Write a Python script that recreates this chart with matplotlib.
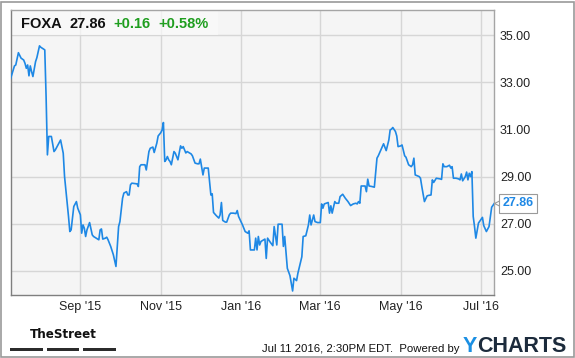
import matplotlib
matplotlib.use("Agg")
import matplotlib.pyplot as plt
import matplotlib.dates as mdates
import matplotlib.transforms as mtransforms
from matplotlib.patches import Rectangle
import numpy as np
import pandas as pd

plt.rcParams['font.family'] = ['Liberation Sans', 'DejaVu Sans']

ticker = "FOXA"
last_price = 27.86
change = "+0.16"
change_pct = "+0.58%"
stamp = "Jul 11 2016, 2:30PM EDT.  Powered by"

# FOXA closing prices (Jul 2015 - Jul 2016)
dates = [
    "2015-07-10", "2015-07-13", "2015-07-14", "2015-07-16", "2015-07-18", "2015-07-20",
    "2015-07-21", "2015-07-22", "2015-07-23", "2015-07-24", "2015-07-25", "2015-07-26",
    "2015-07-27", "2015-07-29", "2015-07-30", "2015-08-01", "2015-08-02", "2015-08-05",
    "2015-08-06", "2015-08-07", "2015-08-08", "2015-08-10", "2015-08-12", "2015-08-13",
    "2015-08-15", "2015-08-17", "2015-08-19", "2015-08-20", "2015-08-22", "2015-08-23",
    "2015-08-24", "2015-08-25", "2015-08-27", "2015-08-29", "2015-08-30", "2015-09-01",
    "2015-09-02", "2015-09-03", "2015-09-04", "2015-09-05", "2015-09-06", "2015-09-08",
    "2015-09-10", "2015-09-11", "2015-09-13", "2015-09-15", "2015-09-16", "2015-09-17",
    "2015-09-18", "2015-09-20", "2015-09-21", "2015-09-22", "2015-09-24", "2015-09-26",
    "2015-09-28", "2015-09-30", "2015-10-01", "2015-10-03", "2015-10-04", "2015-10-06",
    "2015-10-07", "2015-10-08", "2015-10-09", "2015-10-10", "2015-10-14", "2015-10-15",
    "2015-10-16", "2015-10-17", "2015-10-20", "2015-10-21", "2015-10-23", "2015-10-24",
    "2015-10-26", "2015-10-27", "2015-10-29", "2015-10-30", "2015-11-01", "2015-11-02",
    "2015-11-03", "2015-11-04", "2015-11-05", "2015-11-06", "2015-11-07", "2015-11-08",
    "2015-11-09", "2015-11-11", "2015-11-12", "2015-11-14", "2015-11-16", "2015-11-17",
    "2015-11-18", "2015-11-20", "2015-11-21", "2015-11-24", "2015-11-25", "2015-11-27",
    "2015-11-29", "2015-11-30", "2015-12-01", "2015-12-03", "2015-12-04", "2015-12-07",
    "2015-12-09", "2015-12-10", "2015-12-11", "2015-12-13", "2015-12-15", "2015-12-16",
    "2015-12-17", "2015-12-18", "2015-12-20", "2015-12-21", "2015-12-23", "2015-12-24",
    "2015-12-26", "2015-12-28", "2015-12-29", "2015-12-30", "2016-01-02", "2016-01-04",
    "2016-01-06", "2016-01-07", "2016-01-08", "2016-01-09", "2016-01-11", "2016-01-12",
    "2016-01-13", "2016-01-14", "2016-01-15", "2016-01-16", "2016-01-19", "2016-01-20",
    "2016-01-21", "2016-01-23", "2016-01-25", "2016-01-26", "2016-01-28", "2016-01-29",
    "2016-02-01", "2016-02-02", "2016-02-03", "2016-02-05", "2016-02-07", "2016-02-09",
    "2016-02-10", "2016-02-12", "2016-02-13", "2016-02-16", "2016-02-17", "2016-02-19",
    "2016-02-21", "2016-02-22", "2016-02-23", "2016-02-25", "2016-02-26", "2016-02-28",
    "2016-03-01", "2016-03-02", "2016-03-03", "2016-03-04", "2016-03-07", "2016-03-08",
    "2016-03-09", "2016-03-10", "2016-03-12", "2016-03-13", "2016-03-15", "2016-03-16",
    "2016-03-18", "2016-03-20", "2016-03-22", "2016-03-24", "2016-03-26", "2016-03-28",
    "2016-03-29", "2016-03-30", "2016-03-31", "2016-04-01", "2016-04-04", "2016-04-05",
    "2016-04-06", "2016-04-07", "2016-04-09", "2016-04-11", "2016-04-13", "2016-04-14",
    "2016-04-16", "2016-04-18", "2016-04-20", "2016-04-22", "2016-04-23", "2016-04-24",
    "2016-04-25", "2016-04-27", "2016-04-28", "2016-04-29", "2016-05-01", "2016-05-02",
    "2016-05-04", "2016-05-05", "2016-05-07", "2016-05-09", "2016-05-10", "2016-05-11",
    "2016-05-12", "2016-05-15", "2016-05-16", "2016-05-17", "2016-05-19", "2016-05-21",
    "2016-05-22", "2016-05-24", "2016-05-25", "2016-05-26", "2016-05-28", "2016-05-31",
    "2016-06-01", "2016-06-02", "2016-06-03", "2016-06-05", "2016-06-07", "2016-06-08",
    "2016-06-09", "2016-06-10", "2016-06-12", "2016-06-14", "2016-06-15", "2016-06-16",
    "2016-06-17", "2016-06-19", "2016-06-20", "2016-06-21", "2016-06-22", "2016-06-23",
    "2016-06-24", "2016-06-25", "2016-06-26", "2016-06-27", "2016-06-29", "2016-07-02",
    "2016-07-03", "2016-07-05", "2016-07-07", "2016-07-09", "2016-07-11",
]
prices = [
    33.14, 33.69, 33.73, 34.25, 34.02, 33.94,
    33.80, 33.59, 33.73, 33.27, 33.69, 33.45,
    33.24, 33.87, 34.04, 34.54, 34.48, 34.37,
    32.39, 29.92, 30.70, 30.70, 30.06, 30.13,
    30.34, 30.55, 29.99, 29.00, 27.87, 27.31,
    26.67, 26.74, 27.73, 27.94, 27.66, 27.38,
    26.60, 26.95, 26.81, 26.46, 26.74, 27.05,
    26.53, 26.46, 26.39, 26.32, 26.74, 26.78,
    26.35, 26.39, 26.43, 26.32, 26.04, 25.69,
    25.19, 26.88, 27.09, 28.08, 28.30, 28.36,
    28.22, 28.22, 28.65, 28.72, 28.69, 28.58,
    29.42, 29.50, 29.50, 29.28, 30.06, 30.20,
    30.25, 30.02, 30.42, 30.72, 30.86, 30.98,
    31.29, 29.64, 29.71, 29.85, 29.71, 29.64,
    29.50, 30.06, 29.99, 29.71, 30.30, 30.20,
    30.27, 30.00, 30.06, 29.96, 29.88, 29.57,
    29.54, 29.54, 29.74, 29.07, 29.36, 29.36,
    28.22, 28.27, 27.48, 27.35, 27.24, 27.38,
    27.90, 27.14, 27.07, 27.07, 27.38, 27.45,
    27.45, 27.43, 27.56, 27.31, 26.95, 26.67,
    26.60, 26.70, 25.89, 25.89, 25.89, 26.39,
    25.89, 26.46, 26.10, 26.25, 26.35, 25.53,
    26.39, 26.22, 26.07, 26.88, 26.10, 26.98,
    26.98, 26.04, 26.46, 25.11, 24.80, 24.15,
    24.69, 24.59, 24.90, 25.60, 26.46, 26.49,
    26.95, 27.37, 26.95, 27.37, 27.09, 27.05,
    27.05, 27.84, 27.66, 27.84, 27.90, 27.45,
    27.76, 27.45, 27.94, 27.87, 27.87, 28.15,
    28.25, 28.08, 27.94, 27.77, 27.84, 27.87,
    27.84, 27.94, 27.87, 28.60, 28.60, 28.36,
    28.89, 28.60, 28.58, 28.55, 29.78, 29.88,
    30.13, 30.39, 30.10, 30.55, 30.98, 31.01,
    31.08, 30.91, 30.72, 30.27, 30.30, 30.34,
    29.88, 29.82, 29.50, 29.42, 29.50, 29.78,
    29.07, 29.00, 28.93, 28.58, 27.94, 28.18,
    28.20, 28.22, 28.86, 28.75, 28.93, 28.90,
    28.88, 29.54, 29.42, 29.42, 29.48, 29.36,
    29.42, 28.93, 28.93, 28.90, 28.86, 29.11,
    28.82, 29.00, 29.19, 28.86, 29.14, 29.00,
    29.21, 27.31, 26.88, 26.39, 27.03, 27.27,
    26.92, 26.67, 26.88, 27.70, 27.86,
]
y_ticks = [25, 27, 29, 31, 33, 35]

W, H = 575, 358
fig = plt.figure(figsize=(W / 100, H / 100), dpi=100)
fig.patch.set_facecolor("white")

# plot area in pixel box: x 10.5..494.3, y 10..295
ax = fig.add_axes([10.5 / W, 1 - 295 / H, (494.3 - 10.5) / W, 285 / H])
ax.set_facecolor("#f5f5f5")

x = pd.to_datetime(dates)
ax.plot(x, prices, color="#1e88e5", lw=1.2, zorder=3)

ax.set_xlim(pd.Timestamp("2015-07-10"), pd.Timestamp("2016-07-11"))
ax.set_ylim(23.98, 36.06)

ax.xaxis.set_major_locator(mdates.MonthLocator(bymonth=[1, 3, 5, 7, 9, 11]))
ax.xaxis.set_major_formatter(mdates.DateFormatter("%b '%y"))
ax.set_yticks(y_ticks)
ax.set_yticklabels(["%.2f" % v for v in y_ticks])
ax.yaxis.tick_right()
ax.tick_params(axis="both", length=0, labelsize=9, labelcolor="#222222")
ax.tick_params(axis="x", pad=4)
ax.tick_params(axis="y", pad=4)
ax.grid(True, color="#d6d6d6", lw=1)
ax.set_axisbelow(True)

for side in ["left", "bottom"]:
    ax.spines[side].set_color("#7f7f7f")
for side in ["top", "right"]:
    ax.spines[side].set_color("#a5a5a5")
for s in ax.spines.values():
    s.set_linewidth(1)

# header box over the plot
ax.add_patch(Rectangle((0, 1 - 25 / 285), (218 - 10.5) / 483.8, 25 / 285,
                       transform=ax.transAxes, facecolor="#fafafa", edgecolor="none",
                       alpha=0.7, zorder=2))
hy = 1 - 24 / H
fig.text(21.5 / W, hy, ticker, fontsize=10.5, fontweight="bold", color="#111111", va="center")
fig.text(69 / W, hy, "%.2f" % last_price, fontsize=10.5, fontweight="bold", color="#111111", va="center")
fig.text(113 / W, hy, change, fontsize=10.5, fontweight="bold", color="#1f9e1f", va="center")
fig.text(158 / W, hy, change_pct, fontsize=10.5, fontweight="bold", color="#1f9e1f", va="center")

# last price flag
trans = mtransforms.blended_transform_factory(ax.transAxes, ax.transData)
ax.plot([1 + 5 / 483.8], [last_price], transform=trans, marker="<", ms=7,
        mfc="white", mec="#9a9a9a", mew=0.8, clip_on=False, zorder=4)
ax.annotate("%.2f" % last_price, xy=(1, last_price), xycoords=trans,
            xytext=(8, 0), textcoords="offset pixels", ha="left", va="center",
            fontsize=9, fontweight="bold", color="#1e88e5", annotation_clip=False,
            bbox=dict(boxstyle="square,pad=0.25", fc="white", ec="#9a9a9a", lw=0.8),
            zorder=5)

# footer
fig.text(63 / W, 1 - 335 / H, "TheStreet", fontsize=9.5, fontweight="bold",
         family="DejaVu Sans", fontstretch="condensed", color="#111111",
         ha="center", va="center")
for x0, x1 in [(10, 42.5), (46.5, 79), (83, 115.5)]:
    fig.add_artist(Rectangle((x0 / W, 1 - 350.5 / H), (x1 - x0) / W, 3 / H,
                             transform=fig.transFigure, facecolor="#2b2b2b",
                             edgecolor="none"))
fig.text(459 / W, 1 - 349 / H, stamp, fontsize=8.2, color="#111111",
         ha="right", va="center")
fig.text(463 / W, 1 - 346 / H, "Y", fontsize=15.5, fontweight="bold",
         color="#1a8fe3", ha="left", va="center")
fig.text(477 / W, 1 - 346 / H, "CHARTS", fontsize=15.5, fontweight="bold",
         color="#1c2b3c", ha="left", va="center")

# outer frame
fig.add_artist(Rectangle((0.8 / W, 1.5 / H), (W - 2) / W, (H - 3) / H,
                         transform=fig.transFigure, fill=False,
                         edgecolor="#9a9a9a", lw=1.2))

fig.savefig("out.png", dpi=100)
